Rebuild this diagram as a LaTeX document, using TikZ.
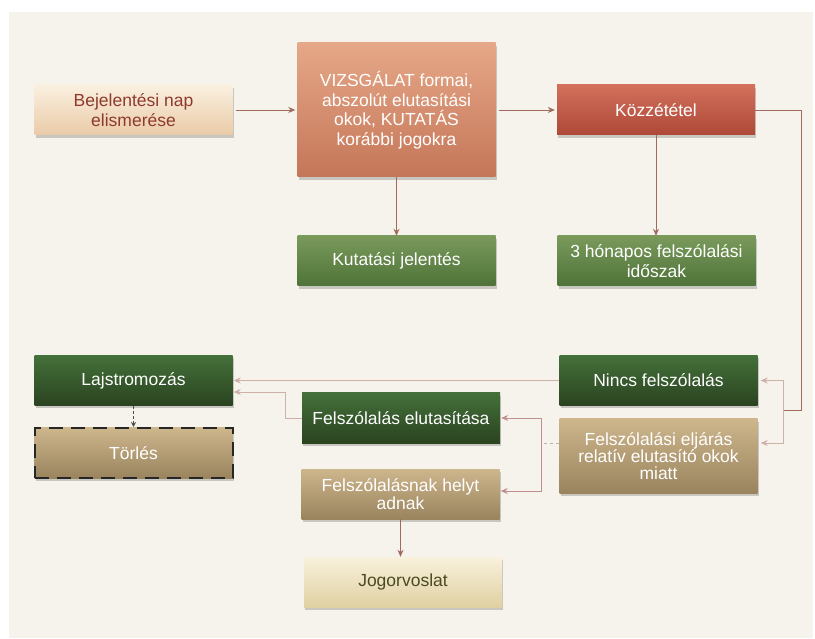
\documentclass[tikz,border=0pt]{standalone}
\usepackage{fontspec}
\setmainfont{Liberation Sans}
\usetikzlibrary{arrows.meta,shadows}
\definecolor{bgc}{HTML}{F6F3EC}
\definecolor{wire}{HTML}{A06A5C}
\definecolor{pale}{HTML}{CDB0A8}
\definecolor{rosy}{HTML}{C09090}
\definecolor{bejtxt}{HTML}{8E3A2C}
\definecolor{jogtxt}{HTML}{4A4A22}
\definecolor{peachT}{HTML}{FAF0E0}\definecolor{peachB}{HTML}{EACBA8}
\definecolor{salmonT}{HTML}{E6A888}\definecolor{salmonB}{HTML}{C47658}
\definecolor{rustT}{HTML}{D2705C}\definecolor{rustB}{HTML}{AE4838}
\definecolor{leafT}{HTML}{7A9A5C}\definecolor{leafB}{HTML}{4E7238}
\definecolor{pineT}{HTML}{44703A}\definecolor{pineB}{HTML}{2A4320}
\definecolor{sandT}{HTML}{CDB68C}\definecolor{sandB}{HTML}{9A845E}
\definecolor{creamT}{HTML}{F8F1DC}\definecolor{creamB}{HTML}{E0D0A2}
\begin{document}
\begin{tikzpicture}[x=1pt,y=-1pt,
  box/.style={minimum width=198pt,minimum height=50pt,align=center,inner sep=2pt,
    text=white,font=\fontsize{17.5}{19.5}\selectfont,
    drop shadow={shadow xshift=1pt,shadow yshift=-3pt,opacity=.35,fill=black!55}},
  peach/.style={top color=peachT,bottom color=peachB},
  salmon/.style={top color=salmonT,bottom color=salmonB},
  rust/.style={top color=rustT,bottom color=rustB},
  leaf/.style={top color=leafT,bottom color=leafB},
  pine/.style={top color=pineT,bottom color=pineB},
  sand/.style={top color=sandT,bottom color=sandB},
  cream/.style={top color=creamT,bottom color=creamB},
  arr/.style={draw=wire,line width=0.8pt,-{Stealth[length=7pt,width=6pt]}},
  line/.style={draw=wire,line width=0.8pt},
  faint/.style={draw=pale,line width=0.8pt}]
\fill[white] (0,0) rectangle (815,639);
\useasboundingbox (0,0) rectangle (815,639);
\fill[bgc] (9,12) rectangle (813,638);
% top row
\node[box,peach,text=bejtxt] (bej) at (133.5,110) {Bejelentési nap\\elismerése};
\node[box,salmon,minimum height=134pt] (vizs) at (396.5,110) {VIZSGÁLAT formai,\\abszolút elutasítási\\okok, KUTATÁS\\korábbi jogokra};
\node[box,rust] (kozz) at (656,110) {Közzététel};
\node[box,leaf] (kut) at (396.5,261) {Kutatási jelentés};
\node[box,leaf] (hon) at (656.5,261) {3 hónapos felszólalási\\időszak};
% lower part
\node[box,pine] (lajs) at (133.5,380.5) {Lajstromozás};
\node[box,pine] (nincs) at (658.5,380.5) {Nincs felszólalás};
\node[box,pine] (elut) at (401,418) {Felszólalás elutasítása};
\node[box,sand,minimum height=74pt,font=\fontsize{17.5}{16.5}\selectfont] (eljar) at (658.5,456) {Felszólalási eljárás\\relatív elutasító okok\\miatt};
\node[box,sand,draw=black!85,line width=2pt,dash pattern=on 14pt off 8pt] (torl) at (133.5,453) {Törlés};
\node[box,sand,font=\fontsize{17.5}{17.5}\selectfont] (helyt) at (400.5,494) {Felszólalásnak helyt\\adnak};
\node[box,cream,text=jogtxt] (jog) at (403,582) {Jogorvoslat};
% connectors
\draw[arr,shorten <=3pt,shorten >=2pt] (bej) -- (vizs);
\draw[arr,shorten <=3pt,shorten >=2pt] (vizs) -- (kozz);
\draw[arr] (vizs) -- (kut);
\draw[arr] (kozz.south) -- (kozz.south |- hon.north);
\coordinate (br1) at (783,410);
\draw[line] (kozz.east) -- (801,110) |- (br1);
\draw[arr,faint] (br1) |- ([xshift=3pt]nincs.east);
\draw[arr,faint] (br1) |- ([xshift=3pt,yshift=13pt]eljar.east);
\coordinate (br2) at (541,443);
\draw[faint,draw=black!30,dashed] ([yshift=13pt]eljar.west) -- (br2);
\draw[arr,draw=rosy] (br2) |- ([xshift=1pt]elut.east);
\draw[arr,draw=rosy] (br2) |- ([xshift=1pt,yshift=3pt]helyt.east);
\draw[arr,faint] (nincs.west) -- ([xshift=1pt]lajs.east);
\draw[arr,faint] (elut.west) -- (285,418) |- ([xshift=1pt,yshift=-11.5pt]lajs.east);
\draw[draw=black!70,line width=0.8pt,densely dashed,-{Stealth[length=5pt,width=5pt]}] (lajs) -- (torl);
\draw[arr] (helyt.south) -- (helyt.south |- jog.north);
\end{tikzpicture}
\end{document}
